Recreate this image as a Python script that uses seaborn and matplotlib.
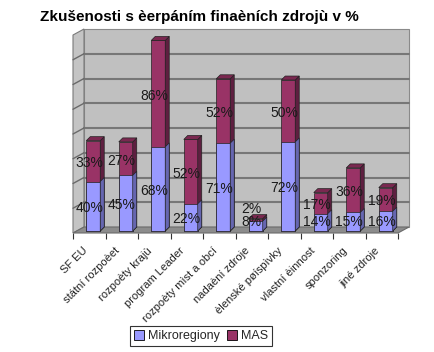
import numpy as np
import pandas as pd
import matplotlib
matplotlib.use("Agg")
import matplotlib.pyplot as plt
import matplotlib.transforms as mtransforms
from matplotlib.patches import Polygon, Patch
import seaborn as sns

# data (%)
categories = ["SF EU", "státní rozpoèet", "rozpoèty krajù", "program Leader",
              "rozpoèty mìst a obcí", "nadaèní zdroje", "èlenské pøíspìvky",
              "vlastní èinnost", "sponzoring", "jiné zdroje"]
mikroregiony = [40, 45, 68, 22, 71, 8, 72, 14, 15, 16]
mas = [33, 27, 86, 52, 52, 2, 50, 17, 36, 19]
series_names = ["Mikroregiony", "MAS"]
title = "Zkušenosti s èerpáním finaèních zdrojù v %"

blue, blue_side = "#9999ff", "#6666b0"
red, red_side, red_top = "#993366", "#5e1f40", "#7a2850"

sns.set_theme(style="white")
plt.rcParams['font.family'] = ['Liberation Sans', 'DejaVu Sans']

df = pd.DataFrame({"kategorie": categories, "Mikroregiony": mikroregiony, "MAS": mas})
df["celkem"] = df["Mikroregiony"] + df["MAS"]

fig = plt.figure(figsize=(4.34, 3.52), dpi=100)
ax = fig.add_axes([73 / 434, 119 / 352, 325 / 434, 198 / 352])
ax.patch.set_visible(False)
sns.despine(ax=ax, left=True, bottom=True)

# stacked bars: total in MAS colour, Mikroregiony on top of it
sns.barplot(data=df, x="kategorie", y="celkem", color=red, width=0.43,
            saturation=1, ax=ax, zorder=3, edgecolor="#222222", linewidth=0.5)
sns.barplot(data=df, x="kategorie", y="Mikroregiony", color=blue, width=0.43,
            saturation=1, ax=ax, zorder=4, edgecolor="#222222", linewidth=0.5)
bars = list(ax.patches)
ax.set_xlim(-0.5, 9.5)
ax.set_ylim(0, 160)
ax.set_xlabel("")
ax.set_ylabel("")
ax.set_yticks([])

ident = mtransforms.IdentityTransform()
wall_d = np.array([11, 6])   # depth of the chart box, pixels
bar_off = np.array([4, 2])    # bars sit a little inside the box
bar_d = np.array([4, 4])      # depth of each bar

fig.canvas.draw()


def A(x, y, d=(0, 0)):
    return ax.transAxes.transform((x, y)) + np.asarray(d)


def D(x, y, d=(0, 0)):
    return ax.transData.transform((x, y)) + np.asarray(d)


# back wall, side wall and floor
ax.add_patch(Polygon([A(0, 0, wall_d), A(1, 0, wall_d), A(1, 1, wall_d), A(0, 1, wall_d)],
                     closed=True, transform=ident, fc="#c0c0c0", ec="#8a8a8a", lw=0.8,
                     zorder=0, clip_on=False))
ax.add_patch(Polygon([A(0, 0), A(0, 0, wall_d), A(0, 1, wall_d), A(0, 1)],
                     closed=True, transform=ident, fc="#c4c4c4", ec="#7a7a7a", lw=0.8,
                     zorder=0.5, clip_on=False))
for yv in np.arange(20, 160, 20):
    ax.plot([D(-0.5, yv, wall_d)[0], D(9.5, yv, wall_d)[0]],
            [D(-0.5, yv, wall_d)[1], D(9.5, yv, wall_d)[1]],
            transform=ident, color="#777777", lw=1.5, zorder=1, clip_on=False)
    ax.plot([D(-0.5, yv)[0], D(-0.5, yv, wall_d)[0]],
            [D(-0.5, yv)[1], D(-0.5, yv, wall_d)[1]],
            transform=ident, color="#6a6a6a", lw=1.0, zorder=1, clip_on=False)
ax.add_patch(Polygon([A(0, 0), A(1, 0), A(1, 0, wall_d), A(0, 0, wall_d)],
                     closed=True, transform=ident, fc="#8c8c8c", ec="#6a6a6a", lw=0.8,
                     zorder=1.5, clip_on=False))

# 3D faces for every bar segment (top face only on the upper MAS segment)
shift = mtransforms.ScaledTranslation(bar_off[0] / 100, bar_off[1] / 100, fig.dpi_scale_trans)
n = len(categories)
for k, p in enumerate(bars):
    side = red_side if k < n else blue_side
    x0, y0 = p.get_x(), p.get_y()
    x1, y1 = x0 + p.get_width(), y0 + p.get_height()
    p.set_transform(ax.transData + shift)
    z = p.get_zorder()
    ax.add_patch(Polygon([D(x1, y0, bar_off), D(x1, y1, bar_off),
                          D(x1, y1, bar_off + bar_d), D(x1, y0, bar_off + bar_d)],
                         closed=True, transform=ident, fc=side, ec="#222222", lw=0.5,
                         zorder=z, clip_on=False))
    if k < n:
        ax.add_patch(Polygon([D(x0, y1, bar_off), D(x1, y1, bar_off),
                              D(x1, y1, bar_off + bar_d), D(x0, y1, bar_off + bar_d)],
                             closed=True, transform=ident, fc=red_top, ec="#222222", lw=0.5,
                             zorder=z, clip_on=False))

# value labels
for i, (m, s) in enumerate(zip(mikroregiony, mas)):
    yb = max(m / 2, 8.5)
    ys = max(m + s / 2, yb + 11)
    ax.text(i, yb, f"{m}%", ha="center", va="center", fontsize=10, color="#1a1a1a", zorder=10)
    ax.text(i, ys, f"{s}%", ha="center", va="center", fontsize=10, color="#1a1a1a", zorder=10)

# category labels and tick marks at category borders
ax.set_xticks(range(n))
ax.set_xticklabels(categories, rotation=45, ha="right", rotation_mode="anchor",
                   fontsize=8, color="#222222")
ax.tick_params(axis="x", which="major", length=0, pad=9)
ax.set_xticks(np.arange(-0.5, n), minor=True)
ax.tick_params(axis="x", which="minor", bottom=True, length=4, width=0.8, color="#333333")
lab_shift = mtransforms.ScaledTranslation(-0.07, 0, fig.dpi_scale_trans)
for lab in ax.get_xticklabels():
    lab.set_transform(lab.get_transform() + lab_shift)

fig.text(40 / 434, 1 - 17 / 352, title, ha="left", va="center",
         fontsize=11, fontweight="bold", color="black")

handles = [Patch(fc=blue, ec="black", lw=0.6, label=series_names[0]),
           Patch(fc=red, ec="black", lw=0.6, label=series_names[1])]
leg = fig.legend(handles=handles, loc="center", bbox_to_anchor=(201 / 434, 16 / 352),
                 ncol=2, frameon=True, fancybox=False, edgecolor="black", fontsize=9,
                 handlelength=0.8, handleheight=0.8, handletextpad=0.3,
                 columnspacing=0.6, borderpad=0.35)
leg.get_frame().set_linewidth(0.8)

fig.savefig("out.png", dpi=100)
